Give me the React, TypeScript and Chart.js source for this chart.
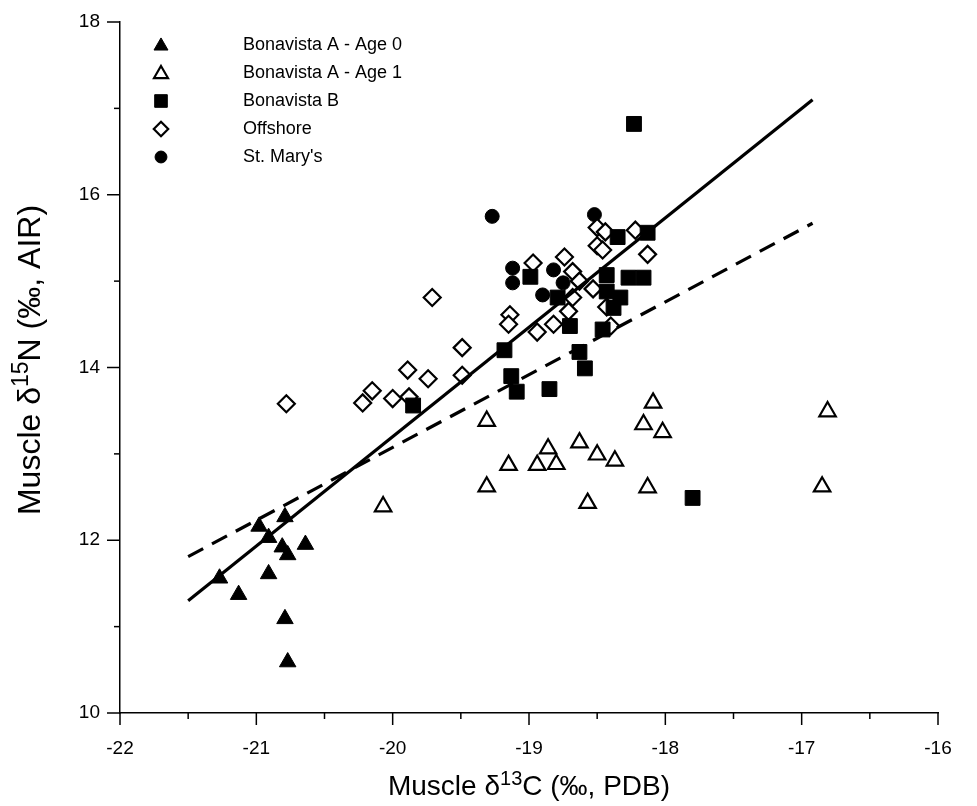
import React, { useEffect, useRef } from 'react';
import { Chart, registerables } from 'chart.js';

Chart.register(...registerables);

// ---- Data ----
const seriesNames = ['Bonavista A - Age 0', 'Bonavista A - Age 1', 'Bonavista B', 'Offshore', "St. Mary's"];

const age0X = [-21.27, -21.13, -20.98, -20.91, -20.91, -20.79, -20.81, -20.77, -20.64, -20.79, -20.77];
const age0Y = [11.56, 11.37, 12.16, 12.03, 11.61, 12.27, 11.92, 11.83, 11.95, 11.09, 10.59];

const age1X = [-20.07, -19.31, -19.31, -19.15, -18.94, -18.86, -18.8, -18.63, -18.5, -18.37, -18.57, -18.16, -18.09, -18.02, -18.13, -16.81, -16.85];
const age1Y = [12.39, 13.38, 12.62, 12.87, 12.87, 13.06, 12.88, 13.13, 12.99, 12.92, 12.43, 13.34, 13.59, 13.25, 12.61, 13.49, 12.62];

const bonBX = [-19.85, -19.18, -19.13, -19.09, -18.85, -18.99, -18.63, -18.59, -18.7, -18.46, -18.43, -18.43, -18.38, -18.33, -18.27, -18.16, -18.35, -18.13, -18.79, -18.23, -17.8];
const bonBY = [13.56, 14.2, 13.9, 13.72, 13.75, 15.05, 14.18, 13.99, 14.48, 14.44, 15.07, 14.88, 14.69, 14.81, 15.04, 15.04, 15.51, 15.56, 14.81, 16.82, 12.49];

const offX = [-20.78, -20.22, -20.15, -20.0, -19.89, -19.88, -19.74, -19.71, -19.49, -19.49, -19.14, -19.15, -18.97, -18.94, -18.82, -18.74, -18.71, -18.68, -18.63, -18.68, -18.53, -18.5, -18.46, -18.5, -18.44, -18.43, -18.4, -18.22, -18.13];
const offY = [13.58, 13.59, 13.73, 13.64, 13.97, 13.66, 13.87, 14.81, 14.23, 13.91, 14.61, 14.5, 15.21, 14.41, 14.5, 15.28, 14.65, 15.11, 15.0, 14.81, 14.91, 15.41, 15.36, 15.62, 15.57, 14.7, 14.48, 15.59, 15.31];

const stMaryX = [-19.27, -19.12, -19.12, -18.82, -18.9, -18.75, -18.52];
const stMaryY = [15.75, 15.15, 14.98, 15.13, 14.84, 14.98, 15.77];

// regression lines (endpoints)
const solidLineX = [-21.5, -16.92];
const solidLineY = [11.3, 17.1];
const dashLineX = [-21.5, -16.92];
const dashLineY = [11.81, 15.67];

const xTickValues = [-22, -21, -20, -19, -18, -17, -16];
const yTickValues = [10, 12, 14, 16, 18];

const FONT = '"Liberation Sans", Arial, Helvetica, sans-serif';

function pts(xs: number[], ys: number[]) {
  return xs.map((x, i) => ({ x, y: ys[i] }));
}

type MarkerStyle = { shape: string; r: number; fill: string; stroke: string; lw: number };

const markerStyles: MarkerStyle[] = [
  { shape: 'triangle', r: 9.5, fill: '#000', stroke: '#000', lw: 1 },
  { shape: 'triangle', r: 9.5, fill: '#fff', stroke: '#000', lw: 2.2 },
  { shape: 'rect', r: 10.5, fill: '#000', stroke: '#000', lw: 1 },
  { shape: 'rectRot', r: 8.5, fill: '#fff', stroke: '#000', lw: 2.2 },
  { shape: 'circle', r: 7, fill: '#000', stroke: '#000', lw: 1 },
];

function drawMarker(ctx: CanvasRenderingContext2D, m: MarkerStyle, x: number, y: number) {
  ctx.beginPath();
  const r = m.r;
  if (m.shape === 'triangle') {
    ctx.moveTo(x, y - r);
    ctx.lineTo(x + r * Math.sin((2 * Math.PI) / 3), y - r * Math.cos((2 * Math.PI) / 3));
    ctx.lineTo(x + r * Math.sin((4 * Math.PI) / 3), y - r * Math.cos((4 * Math.PI) / 3));
    ctx.closePath();
  } else if (m.shape === 'rect') {
    const s = r * Math.SQRT1_2;
    ctx.rect(x - s, y - s, 2 * s, 2 * s);
  } else if (m.shape === 'rectRot') {
    ctx.moveTo(x, y - r);
    ctx.lineTo(x + r, y);
    ctx.lineTo(x, y + r);
    ctx.lineTo(x - r, y);
    ctx.closePath();
  } else {
    ctx.arc(x, y, r, 0, Math.PI * 2);
  }
  ctx.fillStyle = m.fill;
  ctx.fill();
  ctx.lineWidth = m.lw;
  ctx.strokeStyle = m.stroke;
  ctx.stroke();
}

function drawTitleWithSup(
  ctx: CanvasRenderingContext2D,
  parts: { pre: string; sup: string; post: string },
  size: number,
  supSize: number,
  supRise: number
) {
  ctx.font = `${size}px ${FONT}`;
  const w1 = ctx.measureText(parts.pre).width;
  const w3 = ctx.measureText(parts.post).width;
  ctx.font = `${supSize}px ${FONT}`;
  const w2 = ctx.measureText(parts.sup).width;
  const total = w1 + w2 + w3;
  let x = -total / 2;
  ctx.textBaseline = 'alphabetic';
  ctx.textAlign = 'left';
  ctx.font = `${size}px ${FONT}`;
  ctx.fillText(parts.pre, x, 0);
  x += w1;
  ctx.font = `${supSize}px ${FONT}`;
  ctx.fillText(parts.sup, x, -supRise);
  x += w2;
  ctx.font = `${size}px ${FONT}`;
  ctx.fillText(parts.post, x, 0);
}

export default function App() {
  const ref = useRef<HTMLCanvasElement>(null);

  useEffect(() => {
    if (!ref.current) return;

    const customPlugin = {
      id: 'customDecor',
      afterDraw(chart: any) {
        const { ctx, chartArea, scales } = chart;
        const xs = scales.x;
        const ys = scales.y;
        ctx.save();
        ctx.strokeStyle = '#000';
        ctx.lineWidth = 1.5;
        // x ticks (major at integers, minor at halves)
        for (let i = 0; i <= 12; i++) {
          const v = -22 + i * 0.5;
          const px = xs.getPixelForValue(v);
          const len = i % 2 === 0 ? 12 : 6;
          ctx.beginPath();
          ctx.moveTo(px, chartArea.bottom);
          ctx.lineTo(px, chartArea.bottom + len);
          ctx.stroke();
        }
        // y ticks
        for (let v = 10; v <= 18; v++) {
          const py = ys.getPixelForValue(v);
          const len = v % 2 === 0 ? 13 : 6;
          ctx.beginPath();
          ctx.moveTo(chartArea.left, py);
          ctx.lineTo(chartArea.left - len, py);
          ctx.stroke();
        }

        // axis titles
        ctx.fillStyle = '#000';
        ctx.save();
        ctx.translate((chartArea.left + chartArea.right) / 2, 795);
        drawTitleWithSup(ctx, { pre: 'Muscle \u03b4', sup: '13', post: 'C (\u2030, PDB)' }, 28, 20, 10);
        ctx.restore();

        ctx.save();
        ctx.translate(40, 360);
        ctx.rotate(-Math.PI / 2);
        drawTitleWithSup(ctx, { pre: 'Muscle \u03b4', sup: '15', post: 'N (\u2030, AIR)' }, 32, 23, 12);
        ctx.restore();

        // legend
        const lx = 161;
        const tx = 243;
        const y0 = 45;
        const dy = 28;
        ctx.font = `18px ${FONT}`;
        ctx.textBaseline = 'middle';
        ctx.textAlign = 'left';
        seriesNames.forEach((name, i) => {
          const y = y0 + i * dy;
          const m = markerStyles[i];
          drawMarker(ctx, { ...m, r: m.r * 0.85 }, lx, y + (m.shape === 'triangle' ? 1 : 0));
          ctx.fillStyle = '#000';
          ctx.fillText(name, tx, y);
        });
        ctx.restore();
      },
    };

    const pointDatasets = [
      pts(age0X, age0Y),
      pts(age1X, age1Y),
      pts(bonBX, bonBY),
      pts(offX, offY),
      pts(stMaryX, stMaryY),
    ].map((data, i) => {
      const m = markerStyles[i];
      return {
        type: 'scatter' as const,
        label: seriesNames[i],
        data,
        pointStyle: m.shape,
        pointRadius: m.r,
        pointHoverRadius: m.r,
        backgroundColor: m.fill,
        borderColor: m.stroke,
        borderWidth: m.lw,
        order: 1,
      };
    });

    const chart = new Chart(ref.current, {
      type: 'scatter',
      data: {
        datasets: [
          ...pointDatasets,
          {
            type: 'line' as const,
            label: 'fit1',
            data: pts(solidLineX, solidLineY),
            borderColor: '#000',
            borderWidth: 3.2,
            pointRadius: 0,
            showLine: true,
            fill: false,
            order: 0,
          },
          {
            type: 'line' as const,
            label: 'fit2',
            data: pts(dashLineX, dashLineY),
            borderColor: '#000',
            borderWidth: 3.2,
            borderDash: [17, 10],
            pointRadius: 0,
            showLine: true,
            fill: false,
            order: 0,
          },
        ] as any,
      },
      options: {
        responsive: false,
        animation: false,
        devicePixelRatio: 1,
        layout: { padding: { left: 0, right: 39, top: 22, bottom: 0 } },
        plugins: {
          legend: { display: false },
          tooltip: { enabled: false },
        },
        scales: {
          x: {
            type: 'linear',
            min: -22,
            max: -16,
            afterBuildTicks: (scale: any) => {
              scale.ticks = xTickValues.map((v) => ({ value: v }));
            },
            afterFit: (scale: any) => {
              scale.height = 93;
              scale.paddingLeft = 0;
              scale.paddingRight = 0;
            },
            grid: { display: false, drawTicks: false },
            border: { display: true, color: '#000', width: 1.5 },
            ticks: {
              color: '#000',
              font: { family: FONT, size: 19 },
              padding: 24,
              autoSkip: false,
              maxRotation: 0,
            },
          },
          y: {
            type: 'linear',
            min: 10,
            max: 18,
            afterBuildTicks: (scale: any) => {
              scale.ticks = yTickValues.map((v) => ({ value: v }));
            },
            afterFit: (scale: any) => {
              scale.width = 120;
              scale.paddingTop = 0;
              scale.paddingBottom = 0;
            },
            grid: { display: false, drawTicks: false },
            border: { display: true, color: '#000', width: 1.5 },
            ticks: {
              color: '#000',
              font: { family: FONT, size: 19 },
              padding: 20,
              autoSkip: false,
            },
          },
        },
      },
      plugins: [customPlugin],
    });

    return () => chart.destroy();
  }, []);

  return (
    <div style={{ position: 'fixed', left: 0, top: 0, width: 977, height: 806, background: '#fff' }}>
      <canvas ref={ref} width={977} height={806} style={{ width: 977, height: 806, display: 'block' }} />
    </div>
  );
}
